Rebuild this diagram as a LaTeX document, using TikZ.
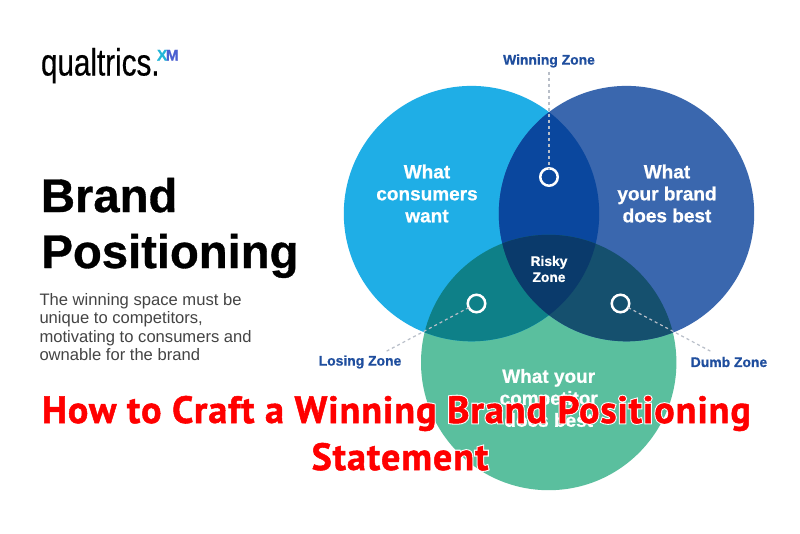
\documentclass[tikz,border=0pt]{standalone}
\usepackage{fontspec}
\setmainfont{Liberation Sans}
\newfontfamily\logofont[FakeStretch=0.78,FakeBold=0.4]{Liberation Sans}
\newfontfamily\heavyfont[FakeBold=0.7]{Liberation Sans Bold}
\newfontfamily\titlefont[LetterSpace=2.7]{PT Sans Bold}
\newcommand{\haloed}[1]{\rlap{\special{pdf:code q 2 Tr 2.6 w 1 1 1 RG}#1\special{pdf:code Q}}\special{pdf:code q 2 Tr 0.5 w 1 0 0 RG}#1\special{pdf:code Q}}
\definecolor{cL}{HTML}{1FAEE6}
\definecolor{cR}{HTML}{3A67AE}
\definecolor{cB}{HTML}{5ABF9E}
\definecolor{cLR}{HTML}{0A479E}
\definecolor{cLB}{HTML}{0E8088}
\definecolor{cRB}{HTML}{15506E}
\definecolor{cLRB}{HTML}{0A3A6B}
\definecolor{zone}{HTML}{1F4E9E}
\definecolor{dashc}{HTML}{B8BEC8}
\definecolor{para}{HTML}{444444}
\tikzset{
  every node/.style={inner sep=0pt,outer sep=0pt},
  venn/.style={text=white,align=center,font=\heavyfont\fontsize{19}{22}\selectfont},
  zonelabel/.style={text=zone,font=\heavyfont\fontsize{13.9}{16}\selectfont},
  marker/.style={circle,draw=white,line width=2.5pt,minimum size=17.5pt},
  leader/.style={draw=dashc,line width=1.2pt,dash pattern=on 3pt off 3pt},
  headline/.style={text=black,anchor=base west,font=\heavyfont\fontsize{47.2}{55}\selectfont},
  banner/.style={text=red,anchor=base,font=\titlefont\fontsize{38}{48}\selectfont},
}
\begin{document}
\begin{tikzpicture}[x=1pt,y=-1pt]
\fill[white] (0,0) rectangle (800,533);
\useasboundingbox (0,0) rectangle (800,533);
\def\cL{(471.5,213.6) circle (127.7)}
\def\cR{(626.5,213.6) circle (127.7)}
\def\cB{(548.7,362.5) circle (127.7)}
\fill[cB] \cB;
\fill[cL] \cL;
\fill[cR] \cR;
\begin{scope}\clip \cL; \fill[cLR] \cR; \end{scope}
\begin{scope}\clip \cL; \fill[cLB] \cB; \end{scope}
\begin{scope}\clip \cR; \fill[cRB] \cB; \end{scope}
\begin{scope}\clip \cL; \clip \cR; \fill[cLRB] \cB; \end{scope}

\node[text=black,anchor=base west,font=\logofont\fontsize{38}{40}\selectfont] (logo) at (41,75.5) {qualtrics.};
\node[anchor=base west,font=\heavyfont\fontsize{15.5}{16}\selectfont] (xm) at (157,60.5) {\textcolor[HTML]{22B5D8}{X}\kern-1.5pt\textcolor[HTML]{4A5FD0}{M}};
\node[headline] (h1) at (41,212) {Brand};
\node[headline] (h2) at (41.5,268) {Positioning};
\node[text=para,align=left,anchor=west,font=\fontsize{16.6}{18.5}\selectfont] (desc) at (39.5,327)
  {The winning space must be\\unique to competitors,\\motivating to consumers and\\ownable for the brand};

\node[venn] (want) at (427,193.5) {What\\consumers\\want};
\node[venn] (best) at (667,193.5) {What\\your brand\\does best};
\node[venn] (comp) at (548.7,398) {What your\\competitor\\does best};
\node[text=white,align=center,font=\heavyfont\fontsize{13.8}{16}\selectfont] (risky) at (549,269) {Risky\\Zone};

\node[zonelabel] (win) at (549,61) {Winning Zone};
\node[zonelabel] (lose) at (360,362) {Losing Zone};
\node[zonelabel] (dumb) at (729,362) {Dumb Zone};
\node[marker] (mw) at (549,177) {};
\node[marker] (ml) at (476.5,303.5) {};
\node[marker] (mr) at (620.5,303.5) {};
\coordinate (el) at (385,352);
\coordinate (er) at (712,352);
\path[leader] (win.south) ++(0,4) -- (mw);
\path[leader] (ml) -- (el);
\path[leader] (mr) -- (er);

\node[banner] (t1) at (396.5,423) {\haloed{How to Craft a Winning Brand Positioning}};
\node[banner] (t2) at (400,470) {\haloed{Statement}};
\end{tikzpicture}
\end{document}
